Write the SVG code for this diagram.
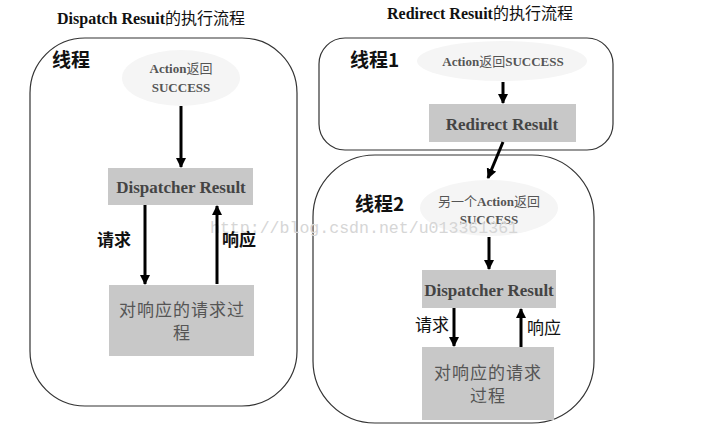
<svg xmlns="http://www.w3.org/2000/svg" width="711" height="435" viewBox="0 0 711 435">
<defs>
<marker id="ah" viewBox="0 0 10 10" refX="9" refY="5" markerWidth="3.4" markerHeight="3.4" orient="auto" markerUnits="strokeWidth">
<path d="M0,0 L10,5 L0,10 Z" fill="#000"/>
</marker>
<style>
.panel{fill:#fff;stroke:#333;stroke-width:1.2}
.blob{fill:#f5f5f5}
.box{fill:#c8c8c8}
.en{font-family:"Liberation Serif","Noto Sans CJK SC",serif;font-weight:bold}
.cjk{font-family:"Noto Sans CJK SC",sans-serif}
.title{font-size:16px;fill:#111}
.thread{font-family:"Noto Sans CJK SC",sans-serif;font-weight:bold;font-size:19px;fill:#111}
.blobtxt{font-size:13px;fill:#555}
.boxtxt{font-size:17px;fill:#444}
.proc{font-family:"Noto Sans CJK SC",sans-serif;font-size:17px;fill:#555;letter-spacing:1px}
.lbl{font-family:"Noto Sans CJK SC",sans-serif;font-size:17px;fill:#111}
.arr{stroke:#000;stroke-width:3;fill:none;marker-end:url(#ah)}
.wm{font-family:"Liberation Mono",monospace;font-size:16.5px;fill:#d6d6d6}
</style>
</defs>
<rect width="711" height="435" fill="#fff"/>

<text class="title" x="57" y="24"><tspan class="en">Dispatch Resuit</tspan><tspan class="cjk">的执行流程</tspan></text>
<text class="title" x="387" y="19"><tspan class="en">Redirect Resuit</tspan><tspan class="cjk">的执行流程</tspan></text>

<g id="panel-left">
<rect class="panel" x="30" y="38" width="267" height="368" rx="55" ry="55"/>
<text class="thread" x="52" y="67">线程</text>
</g>
<g id="panel-thread1">
<rect class="panel" x="319" y="38" width="294" height="112" rx="26" ry="26"/>
<text class="thread" x="350" y="67">线程1</text>
</g>
<g id="panel-thread2">
<rect class="panel" x="313" y="155" width="281" height="268" rx="62" ry="62"/>
<text class="thread" x="355" y="211">线程2</text>
</g>

<g id="l-action">
<ellipse class="blob" cx="181" cy="78" rx="59" ry="28"/>
<text class="blobtxt en" x="181" y="73" text-anchor="middle">Action<tspan class="cjk" font-weight="normal">返回</tspan></text>
<text class="blobtxt en" x="181" y="92" text-anchor="middle">SUCCESS</text>
</g>
<g id="l-dispatcher">
<rect class="box" x="108" y="168" width="145" height="37"/>
<text class="boxtxt en" x="181" y="193" text-anchor="middle">Dispatcher Result</text>
</g>
<g id="l-process">
<rect class="box" x="109" y="285" width="145" height="71"/>
<text class="proc" x="182" y="316" text-anchor="middle">对响应的请求过</text>
<text class="proc" x="182" y="339" text-anchor="middle">程</text>
</g>

<g id="r-action1">
<ellipse class="blob" cx="502" cy="61" rx="85" ry="20"/>
<text class="blobtxt en" x="503" y="66" text-anchor="middle" font-size="14.5">Action<tspan class="cjk" font-weight="normal">返回</tspan>SUCCESS</text>
</g>
<g id="r-redirect">
<rect class="box" x="429" y="104" width="147" height="38"/>
<text class="boxtxt en" x="502" y="130" text-anchor="middle">Redirect Result</text>
</g>
<g id="r-action2">
<ellipse class="blob" cx="489" cy="208" rx="69" ry="28"/>
<text class="blobtxt en" x="489" y="206" text-anchor="middle" font-size="14"><tspan class="cjk" font-weight="normal">另一个</tspan>Action<tspan class="cjk" font-weight="normal">返回</tspan></text>
<text class="blobtxt en" x="489" y="224" text-anchor="middle">SUCCESS</text>
</g>
<g id="r-dispatcher">
<rect class="box" x="422" y="270" width="134" height="38"/>
<text class="boxtxt en" x="489" y="296" text-anchor="middle">Dispatcher Result</text>
</g>
<g id="r-process">
<rect class="box" x="422" y="347" width="132" height="73"/>
<text class="proc" x="488" y="379" text-anchor="middle">对响应的请求</text>
<text class="proc" x="488" y="402" text-anchor="middle">过程</text>
</g>

<text class="wm" x="210" y="233" textLength="308" lengthAdjust="spacingAndGlyphs">http://blog.csdn.net/u013361361</text>

<g id="connectors">
<line class="arr" x1="181" y1="106" x2="181" y2="167"/>
<line class="arr" x1="145" y1="205" x2="145" y2="284"/>
<line class="arr" x1="217" y1="284" x2="217" y2="206"/>
<line class="arr" x1="503" y1="82" x2="503" y2="103"/>
<line class="arr" x1="503" y1="142" x2="488" y2="178"/>
<line class="arr" x1="489" y1="237" x2="489" y2="269"/>
<line class="arr" x1="454" y1="308" x2="454" y2="346"/>
<line class="arr" x1="521" y1="347" x2="521" y2="309"/>
<text class="lbl" x="97" y="246" font-size="19" font-weight="bold">请求</text>
<text class="lbl" x="222" y="246" font-size="19" font-weight="bold">响应</text>
<text class="lbl" x="415" y="331">请求</text>
<text class="lbl" x="527" y="334">响应</text>
</g>
</svg>
